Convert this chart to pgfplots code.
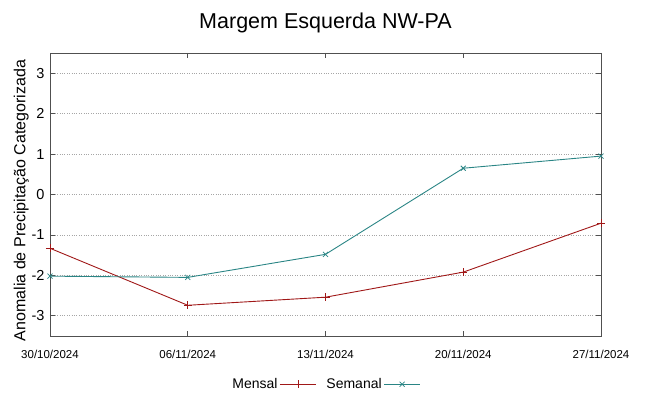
\documentclass[border=0pt]{standalone}
\usepackage{pgfplots}
\pgfplotsset{compat=1.18}
\usepackage{fontspec}
\setmainfont{Liberation Sans}
\definecolor{mensal}{HTML}{A01818}
\definecolor{semanal}{HTML}{2A8585}
\definecolor{axgray}{HTML}{505050}
\begin{document}
\begin{tikzpicture}[x=1pt,y=1pt]
\begin{axis}[
  scale only axis,
  width=551pt, height=283pt,
  xmin=0, xmax=4, ymin=-3.5, ymax=3.5,
  xtick={0,1,2,3,4},
  xticklabels={30/10/2024,06/11/2024,13/11/2024,20/11/2024,27/11/2024},
  ytick={-3,-2,-1,0,1,2,3},
  tick align=inside,
  major tick length=5pt,
  tick style={axgray, line width=0.8pt},
  axis line style={axgray, line width=0.9pt},
  ymajorgrids,
  grid style={gray!70, dotted, line width=0.7pt},
  /pgf/number format/assume math mode=true,
  yticklabel style={font=\fontsize{14.5}{16}\selectfont, xshift=-2pt},
  xticklabel style={font=\fontsize{11.5}{13}\selectfont, yshift=-11pt},
  title={Margem Esquerda NW-PA},
  title style={font=\fontsize{21.5}{24}\selectfont, yshift=11pt},
  ylabel={Anomalia de Precipitação Categorizada},
  ylabel style={font=\fontsize{16}{18}\selectfont, yshift=-4pt, xshift=-6pt},
  legend style={draw=none, font=\fontsize{14}{16}\selectfont, at={(0.5,-0.135)}, anchor=north, legend columns=2, /tikz/every even column/.append style={column sep=8pt}},
  legend plot pos=right,
  legend cell align=right,
  legend image code/.code={\draw[mark repeat=2,mark phase=2] plot coordinates {(0pt,0pt) (18pt,0pt) (36pt,0pt)};},
  clip=false,
  after end axis/.code={
    \path (rel axis cs:0,0) ++(-50pt,-60pt) coordinate (bbA);
    \path (rel axis cs:1,1) ++(48pt,53pt) coordinate (bbB);
  },
]
\addplot[mensal, line width=0.9pt, mark=+, mark size=4pt, mark options={line width=0.8pt}] coordinates {
(0,-1.33) (1,-2.74) (2,-2.54) (3,-1.92) (4,-0.71)};
\addlegendentry{Mensal}
\addplot[semanal, line width=0.9pt, mark=x, mark size=3.5pt, mark options={line width=0.8pt}] coordinates {
(0,-2.02) (1,-2.05) (2,-1.48) (3,0.65) (4,0.95)};
\addlegendentry{Semanal}
\end{axis}
\useasboundingbox (bbA) rectangle (bbB);
\end{tikzpicture}
\end{document}
